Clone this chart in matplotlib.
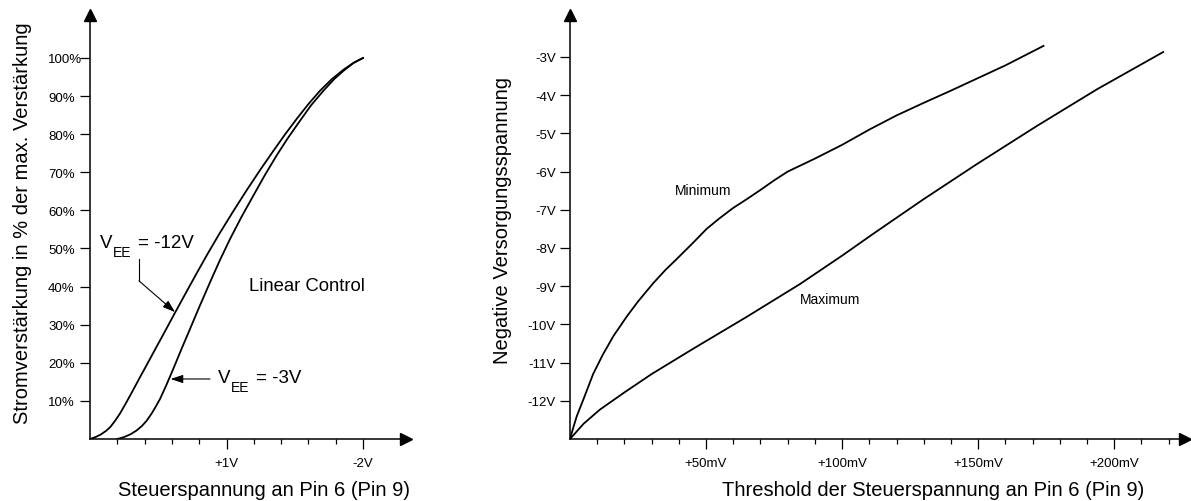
import matplotlib.pyplot as plt
from matplotlib.transforms import offset_copy

plt.rcParams['font.family'] = ['Liberation Sans', 'DejaVu Sans']

# left chart: gain vs control voltage (x in tick units, +1V at 1, -2V at 2)
vee12_x = [0.0, 0.04, 0.08, 0.12, 0.15, 0.18, 0.22, 0.26, 0.3, 0.366, 0.43, 0.489, 0.55, 0.61,
           0.7, 0.78, 0.86, 0.95, 1.05, 1.148, 1.25, 1.343, 1.43, 1.514, 1.6, 1.685, 1.77, 1.856,
           1.93, 2.0]
vee12_y = [0.0, 0.5, 1.2, 2.2, 3.2, 4.6, 6.7, 9.2, 11.8, 16.2, 20.4, 24.3, 28.3, 32.3,
           38.2, 43.4, 48.5, 54.0, 59.8, 65.3, 70.8, 75.6, 80.0, 84.0, 87.9, 91.4, 94.4, 96.9,
           98.7, 100.0]
vee3_x = [0.2, 0.25, 0.3, 0.34, 0.38, 0.415, 0.45, 0.48, 0.513, 0.56, 0.61, 0.67, 0.733, 0.8,
          0.879, 0.95, 1.026, 1.11, 1.197, 1.28, 1.367, 1.45, 1.538, 1.62, 1.71, 1.79, 1.856,
          1.93, 2.0]
vee3_y = [0.0, 0.5, 1.3, 2.2, 3.4, 4.8, 6.6, 8.4, 10.5, 14.2, 18.4, 23.6, 28.9, 34.6,
          41.1, 46.8, 52.5, 58.3, 63.9, 69.2, 74.4, 79.0, 83.5, 87.6, 91.4, 94.5, 96.6,
          98.7, 100.0]
left_yticks = [10, 20, 30, 40, 50, 60, 70, 80, 90, 100]
left_ylabels = ['10%', '20%', '30%', '40%', '50%', '60%', '70%', '80%', '90%', '100%']
left_xticks = [1.0, 2.0]
left_xlabels = ['+1V', '-2V']
left_xminor = [0.2, 0.4, 0.6, 0.8, 1.2, 1.4, 1.6, 1.8]

# right chart: supply voltage vs threshold (mV)
min_x = [0, 1, 2.5, 5, 8.5, 12, 16, 20.8, 25, 30.6, 35, 39.2, 45, 50.2, 55, 60, 65, 70, 75, 80,
         90, 100, 110, 120, 130, 140, 150, 160, 174]
min_y = [-13, -12.75, -12.4, -11.95, -11.3, -10.8, -10.3, -9.8, -9.4, -8.92, -8.58, -8.29,
         -7.88, -7.5, -7.22, -6.95, -6.72, -6.48, -6.23, -6.0, -5.66, -5.3, -4.9, -4.53, -4.2,
         -3.88, -3.55, -3.22, -2.71]
max_x = [0, 5, 11, 20, 30, 45.2, 65, 84.6, 100, 112, 130, 149.6, 171.7, 193.8, 218]
max_y = [-13, -12.6, -12.23, -11.78, -11.3, -10.64, -9.8, -8.94, -8.2, -7.6, -6.72, -5.8,
         -4.8, -3.84, -2.87]
right_yticks = [-3, -4, -5, -6, -7, -8, -9, -10, -11, -12]
right_ylabels = ['-3V', '-4V', '-5V', '-6V', '-7V', '-8V', '-9V', '-10V', '-11V', '-12V']
right_xticks = [50, 100, 150, 200]
right_xlabels = ['+50mV', '+100mV', '+150mV', '+200mV']
right_xminor = [v for v in range(10, 230, 10) if v % 50 != 0]

fig = plt.figure(figsize=(11.91, 5.02), dpi=100)
ax1 = fig.add_axes([0.07557, 0.12351, 0.26532, 0.84363])
ax2 = fig.add_axes([0.47859, 0.12351, 0.51637, 0.84363])


def style_axes(ax):
    for s in ['top', 'right']:
        ax.spines[s].set_visible(False)
    for s in ['left', 'bottom']:
        ax.spines[s].set_linewidth(1.1)
    ax.tick_params(axis='y', which='major', length=7.2, width=0.9, labelsize=9.5)
    ax.tick_params(axis='x', which='major', length=7.2, width=0.9, labelsize=9.5, pad=6)
    ax.tick_params(axis='x', which='minor', length=3.6, width=0.9)
    ax.plot(1, 0, '>k', ms=9, transform=ax.transAxes, clip_on=False)
    ax.plot(0, 1, '^k', ms=9, transform=ax.transAxes, clip_on=False)


# ---- left
ax1.plot(vee12_x, vee12_y, color='black', lw=1.3)
ax1.plot(vee3_x, vee3_y, color='black', lw=1.3)
ax1.set_xlim(0, 2.315)
ax1.set_ylim(0, 111.15)
style_axes(ax1)
ax1.set_yticks(left_yticks, left_ylabels)
ax1.tick_params(axis='y', pad=23)
for lab in ax1.get_yticklabels():
    lab.set_horizontalalignment('left')
ax1.set_xticks(left_xticks, left_xlabels)
ax1.set_xticks(left_xminor, minor=True)
ax1.set_xlabel('Steuerspannung an Pin 6 (Pin 9)', fontsize=14.5)
ax1.xaxis.set_label_coords(0.551, -0.12)
ax1.xaxis.label.set_va('center')
ax1.set_ylabel('Stromverstärkung in % der max. Verstärkung', fontsize=14.5)
ax1.yaxis.set_label_coords(-0.215, 0.511)
ax1.yaxis.label.set_va('center')

ax1.text(1.59, 40.2, 'Linear Control', fontsize=13.3, ha='center', va='center')


def vee_label(ax, x, y, value):
    ax.text(x, y, 'V', fontsize=13.5, ha='left', va='baseline')
    ax.text(x, y, 'EE', fontsize=10, ha='left', va='baseline',
            transform=offset_copy(ax.transData, fig=fig, x=9.4, y=-6.5, units='points'))
    ax.text(x, y, '= ' + value, fontsize=13.5, ha='left', va='baseline',
            transform=offset_copy(ax.transData, fig=fig, x=27.5, y=0, units='points'))


vee_label(ax1, 0.073, 50.4, '-12V')
vee_label(ax1, 0.938, 15.0, '-3V')

ax1.plot([0.359, 0.359], [47.2, 41.5], color='black', lw=0.8)
ax1.annotate('', xy=(0.623, 33.3), xytext=(0.359, 41.5),
             arrowprops=dict(arrowstyle='-|>,head_length=0.75,head_width=0.25',
                             color='black', lw=0.8, mutation_scale=10,
                             shrinkA=0, shrinkB=0))
ax1.annotate('', xy=(0.59, 15.75), xytext=(0.879, 15.75),
             arrowprops=dict(arrowstyle='-|>,head_length=0.75,head_width=0.25',
                             color='black', lw=0.8, mutation_scale=10,
                             shrinkA=0, shrinkB=0))

# ---- right
ax2.plot(min_x, min_y, color='black', lw=1.3)
ax2.plot(max_x, max_y, color='black', lw=1.3)
ax2.set_xlim(0, 226)
ax2.set_ylim(-13, -1.914)
style_axes(ax2)
ax2.set_yticks(right_yticks, right_ylabels)
ax2.tick_params(axis='y', pad=3)
ax2.set_xticks(right_xticks, right_xlabels)
ax2.set_xticks(right_xminor, minor=True)
ax2.set_xlabel('Threshold der Steuerspannung an Pin 6 (Pin 9)', fontsize=14.5)
ax2.xaxis.set_label_coords(0.59, -0.12)
ax2.xaxis.label.set_va('center')
ax2.set_ylabel('Negative Versorgungsspannung', fontsize=14.5)
ax2.yaxis.set_label_coords(-0.109, 0.518)
ax2.yaxis.label.set_va('center')

ax2.text(49, -6.48, 'Minimum', fontsize=10, ha='center', va='center')
ax2.text(95.6, -9.34, 'Maximum', fontsize=10, ha='center', va='center')

fig.savefig('out.png', dpi=100)
